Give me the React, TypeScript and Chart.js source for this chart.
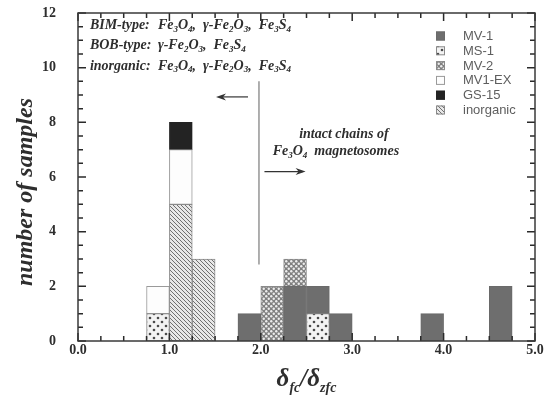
import { useEffect, useRef } from "react";
import { Chart, registerables } from "chart.js";

Chart.register(...registerables);

// ---- data ----
const binCenters = [0.875, 1.125, 1.375, 1.875, 2.125, 2.375, 2.625, 2.875, 3.875, 4.625];
// stack order, bottom -> top
const inorganicCounts = [null, 5, 3, null, null, null, null, null, null, null];
const ms1Counts = [1, null, null, null, null, null, 1, null, null, null];
const mv1Counts = [null, null, null, 1, null, 2, 1, 1, 1, 2];
const mv2Counts = [null, null, null, null, 2, 1, null, null, null, null];
const mv1exCounts = [1, 2, null, null, null, null, null, null, null, null];
const gs15Counts = [null, 1, null, null, null, null, null, null, null, null];

const legendOrder = ["MV-1", "MS-1", "MV-2", "MV1-EX", "GS-15", "inorganic"];
const xMin = 0, xMax = 5, xStep = 0.25, binWidth = 0.25;
const yMin = 0, yMax = 12, yStep = 0.5;
const xTitle = "δ_{fc}/δ_{zfc}";
const yTitle = "number of samples";
const typeLabels = ["BIM-type:", "BOB-type:", "inorganic:"];
const typeFormulas = ["Fe_3O_4,  γ-Fe_2O_3,  Fe_3S_4", "γ-Fe_2O_3,  Fe_3S_4", "Fe_3O_4,  γ-Fe_2O_3,  Fe_3S_4"];
const typeRowsY = [11.55, 10.8, 10.06];
const typeLabelX = 0.13;
const chainNote = ["intact chains of", "Fe_3O_4  magnetosomes"];
const chainNoteX = [2.42, 2.13];
const chainNoteY = [7.55, 6.92];
const boundaryX = 1.98;
const boundaryY = [2.8, 9.5];
const leftArrow = { from: 1.86, to: 1.51, y: 8.93 };
const rightArrow = { from: 2.04, to: 2.49, y: 6.2 };

const SERIF = "'Liberation Serif', 'Times New Roman', serif";
const SANS = "'Liberation Sans', Arial, sans-serif";

type Seg = { t: string; sub: boolean };
function parseRich(s: string): Seg[] {
  const out: Seg[] = [];
  let buf = "";
  for (let i = 0; i < s.length; i++) {
    const ch = s[i];
    if (ch === "_") {
      if (buf) out.push({ t: buf, sub: false });
      buf = "";
      if (s[i + 1] === "{") {
        const end = s.indexOf("}", i);
        out.push({ t: s.slice(i + 2, end), sub: true });
        i = end;
      } else {
        out.push({ t: s[i + 1], sub: true });
        i++;
      }
    } else buf += ch;
  }
  if (buf) out.push({ t: buf, sub: false });
  return out;
}

function drawRich(ctx: CanvasRenderingContext2D, segs: Seg[], x: number, y: number, size: number, subSize: number, subDrop: number) {
  let cx = x;
  for (const s of segs) {
    ctx.font = `italic bold ${s.sub ? subSize : size}px ${SERIF}`;
    ctx.fillText(s.t, cx, s.sub ? y + subDrop : y);
    cx += ctx.measureText(s.t).width;
  }
}

function makePattern(size: number, draw: (g: CanvasRenderingContext2D) => void) {
  const c = document.createElement("canvas");
  c.width = size;
  c.height = size;
  const g = c.getContext("2d")!;
  draw(g);
  return g.createPattern(c, "repeat")!;
}

export default function App() {
  const ref = useRef<HTMLCanvasElement>(null);

  useEffect(() => {
    document.body.style.margin = "0";
    const hatch = makePattern(4, (g) => {
      g.fillStyle = "#e8e8e8";
      g.fillRect(0, 0, 4, 4);
      g.strokeStyle = "#707070";
      g.lineWidth = 1;
      g.beginPath();
      g.moveTo(-1, -1); g.lineTo(5, 5);
      g.moveTo(-1, 3); g.lineTo(1, 5);
      g.moveTo(3, -1); g.lineTo(5, 1);
      g.stroke();
    });
    const dots = makePattern(8, (g) => {
      g.fillStyle = "#f3f3f3";
      g.fillRect(0, 0, 8, 8);
      g.fillStyle = "#4a4a4a";
      for (const [x, y] of [[2, 2], [6, 6]]) {
        g.beginPath(); g.arc(x, y, 1.3, 0, Math.PI * 2); g.fill();
      }
    });
    const pebbles = makePattern(5, (g) => {
      g.fillStyle = "#808080";
      g.fillRect(0, 0, 5, 5);
      g.fillStyle = "#ededed";
      for (const [x, y] of [[1.25, 1.25], [3.75, 3.75]]) {
        g.beginPath(); g.arc(x, y, 1.2, 0, Math.PI * 2); g.fill();
      }
    });

    const styles: Record<string, { bg: any; border: string }> = {
      "inorganic": { bg: hatch, border: "#8a8a8a" },
      "MS-1": { bg: dots, border: "#8a8a8a" },
      "MV-1": { bg: "#6e6e6e", border: "#6a6a6a" },
      "MV-2": { bg: pebbles, border: "#8a8a8a" },
      "MV1-EX": { bg: "#fdfdfd", border: "#9a9a9a" },
      "GS-15": { bg: "#232323", border: "#232323" },
    };
    const series: [string, (number | null)[]][] = [
      ["inorganic", inorganicCounts],
      ["MS-1", ms1Counts],
      ["MV-1", mv1Counts],
      ["MV-2", mv2Counts],
      ["MV1-EX", mv1exCounts],
      ["GS-15", gs15Counts],
    ];
    // bins that hold a bar (bottom ticks are hidden behind bars)
    const filledBins = binCenters.filter((_, i) => series.some(([, v]) => (v[i] ?? 0) > 0));

    const decor = {
      id: "decor",
      afterDatasetsDraw(chart: any) {
        const ctx: CanvasRenderingContext2D = chart.ctx;
        const a = chart.chartArea;
        const xs = chart.scales.x, ys = chart.scales.y;
        ctx.save();

        // inward tick marks
        ctx.strokeStyle = "#2a2a2a";
        ctx.lineWidth = 1.5;
        ctx.beginPath();
        const nx = Math.round((xMax - xMin) / xStep);
        for (let i = 0; i <= nx; i++) {
          const v = xMin + i * xStep;
          const px = xs.getPixelForValue(v);
          const len = i % 4 === 0 ? 8 : 5;
          ctx.moveTo(px, a.top);
          ctx.lineTo(px, a.top + len);
          const hidden = filledBins.some((c) => Math.abs(v - c) < binWidth / 2 - 1e-6);
          if (!hidden) {
            ctx.moveTo(px, a.bottom);
            ctx.lineTo(px, a.bottom - len);
          }
        }
        const ny = Math.round((yMax - yMin) / yStep);
        for (let i = 0; i <= ny; i++) {
          const py = ys.getPixelForValue(yMin + i * yStep);
          const len = i % 4 === 0 ? 8 : 5;
          ctx.moveTo(a.left, py);
          ctx.lineTo(a.left + len, py);
          ctx.moveTo(a.right, py);
          ctx.lineTo(a.right - len, py);
        }
        ctx.stroke();

        // frame
        ctx.strokeStyle = "#3a3a3a";
        ctx.lineWidth = 1.5;
        ctx.strokeRect(a.left, a.top, a.right - a.left, a.bottom - a.top);

        // boundary line
        ctx.strokeStyle = "#7a7a7a";
        ctx.lineWidth = 1.2;
        const bx = xs.getPixelForValue(boundaryX);
        ctx.beginPath();
        ctx.moveTo(bx, ys.getPixelForValue(boundaryY[0]));
        ctx.lineTo(bx, ys.getPixelForValue(boundaryY[1]));
        ctx.stroke();

        // arrows
        ctx.strokeStyle = "#333";
        ctx.fillStyle = "#333";
        ctx.lineWidth = 1.2;
        for (const ar of [leftArrow, rightArrow]) {
          const x1 = xs.getPixelForValue(ar.from), x2 = xs.getPixelForValue(ar.to);
          const y = ys.getPixelForValue(ar.y);
          const d = Math.sign(x2 - x1);
          ctx.beginPath(); ctx.moveTo(x1, y); ctx.lineTo(x2 - d * 3, y); ctx.stroke();
          ctx.beginPath();
          ctx.moveTo(x2, y);
          ctx.lineTo(x2 - d * 10, y - 3.5);
          ctx.lineTo(x2 - d * 7, y);
          ctx.lineTo(x2 - d * 10, y + 3.5);
          ctx.closePath();
          ctx.fill();
        }

        // annotations
        ctx.fillStyle = "#2e2e2e";
        ctx.textBaseline = "middle";
        ctx.textAlign = "left";
        const lx = xs.getPixelForValue(typeLabelX);
        typeLabels.forEach((lab, i) => {
          const y = ys.getPixelForValue(typeRowsY[i]);
          ctx.font = `italic bold 14px ${SERIF}`;
          ctx.fillText(lab, lx, y);
          drawRich(ctx, parseRich(typeFormulas[i]), lx + 68, y, 14, 9, 4);
        });
        chainNote.forEach((line, i) => {
          drawRich(ctx, parseRich(line), xs.getPixelForValue(chainNoteX[i]), ys.getPixelForValue(chainNoteY[i]), 14, 9, 4);
        });

        // legend
        const lgX = 436, lgY = 36, lgDy = 14.8, box = 9;
        legendOrder.forEach((name, i) => {
          const st = styles[name];
          const cy = lgY + i * lgDy;
          ctx.fillStyle = st.bg;
          ctx.fillRect(lgX, cy - box / 2, box, box);
          ctx.strokeStyle = st.border;
          ctx.lineWidth = 1;
          ctx.strokeRect(lgX + 0.5, cy - box / 2 + 0.5, box - 1, box - 1);
          ctx.fillStyle = "#5e5e5e";
          ctx.font = `13px ${SANS}`;
          ctx.fillText(name, 463, cy + 0.5);
        });

        // y title
        ctx.save();
        ctx.translate(26, 192);
        ctx.rotate(-Math.PI / 2);
        ctx.textAlign = "center";
        ctx.textBaseline = "middle";
        ctx.fillStyle = "#2e2e2e";
        ctx.font = `italic bold 24px ${SERIF}`;
        ctx.fillText(yTitle, 0, 0);
        ctx.restore();

        // x title
        const segs = parseRich(xTitle);
        let total = 0;
        for (const s of segs) {
          const size = s.sub ? 14 : s.t === "/" ? 22 : 25;
          ctx.font = `italic bold ${size}px ${SERIF}`;
          total += ctx.measureText(s.t).width;
        }
        let cx = (a.left + a.right) / 2 - total / 2;
        const baseY = 386;
        ctx.fillStyle = "#2e2e2e";
        ctx.textAlign = "left";
        ctx.textBaseline = "alphabetic";
        for (const s of segs) {
          const size = s.sub ? 14 : s.t === "/" ? 22 : 25;
          ctx.font = `italic bold ${size}px ${SERIF}`;
          ctx.fillText(s.t, cx, s.sub ? baseY + 6 : baseY);
          cx += ctx.measureText(s.t).width;
        }
        ctx.restore();
      },
    };

    const chart = new Chart(ref.current!, {
      type: "bar",
      data: {
        datasets: series.map(([label, vals]) => ({
          label,
          data: binCenters.map((x, i) => ({ x, y: vals[i] })) as any,
          backgroundColor: styles[label].bg,
          borderColor: styles[label].border,
          borderWidth: 1,
          borderSkipped: false,
          categoryPercentage: 1,
          barPercentage: 1,
        })),
      },
      options: {
        responsive: false,
        animation: false,
        devicePixelRatio: 1,
        layout: { padding: { left: 0, right: 23, top: 13, bottom: 0 } },
        plugins: { legend: { display: false }, tooltip: { enabled: false } },
        scales: {
          x: {
            type: "linear",
            stacked: true,
            offset: false,
            min: xMin,
            max: xMax,
            grid: { display: false },
            border: { display: false },
            ticks: {
              stepSize: xStep,
              autoSkip: false,
              maxRotation: 0,
              padding: -7,
              color: "#2e2e2e",
              font: { family: SERIF, size: 14, weight: "bold" },
              callback: (v: any) => (Number.isInteger(v) ? Number(v).toFixed(1) : ""),
            },
            afterFit: (s: any) => { s.height = 55; },
          },
          y: {
            type: "linear",
            stacked: true,
            min: yMin,
            max: yMax,
            grid: { display: false },
            border: { display: false },
            ticks: {
              stepSize: yStep,
              autoSkip: false,
              padding: 14,
              color: "#2e2e2e",
              font: { family: SERIF, size: 14, weight: "bold" },
              callback: (v: any) => (Number(v) % 2 === 0 ? String(v) : ""),
            },
            afterFit: (s: any) => {
              s.width = 78;
              s.paddingTop = 0;
              s.paddingBottom = 0;
            },
          },
        },
      } as any,
      plugins: [decor],
    });
    return () => chart.destroy();
  }, []);

  return (
    <div style={{ width: 558, height: 396 }}>
      <canvas ref={ref} width={558} height={396} />
    </div>
  );
}
